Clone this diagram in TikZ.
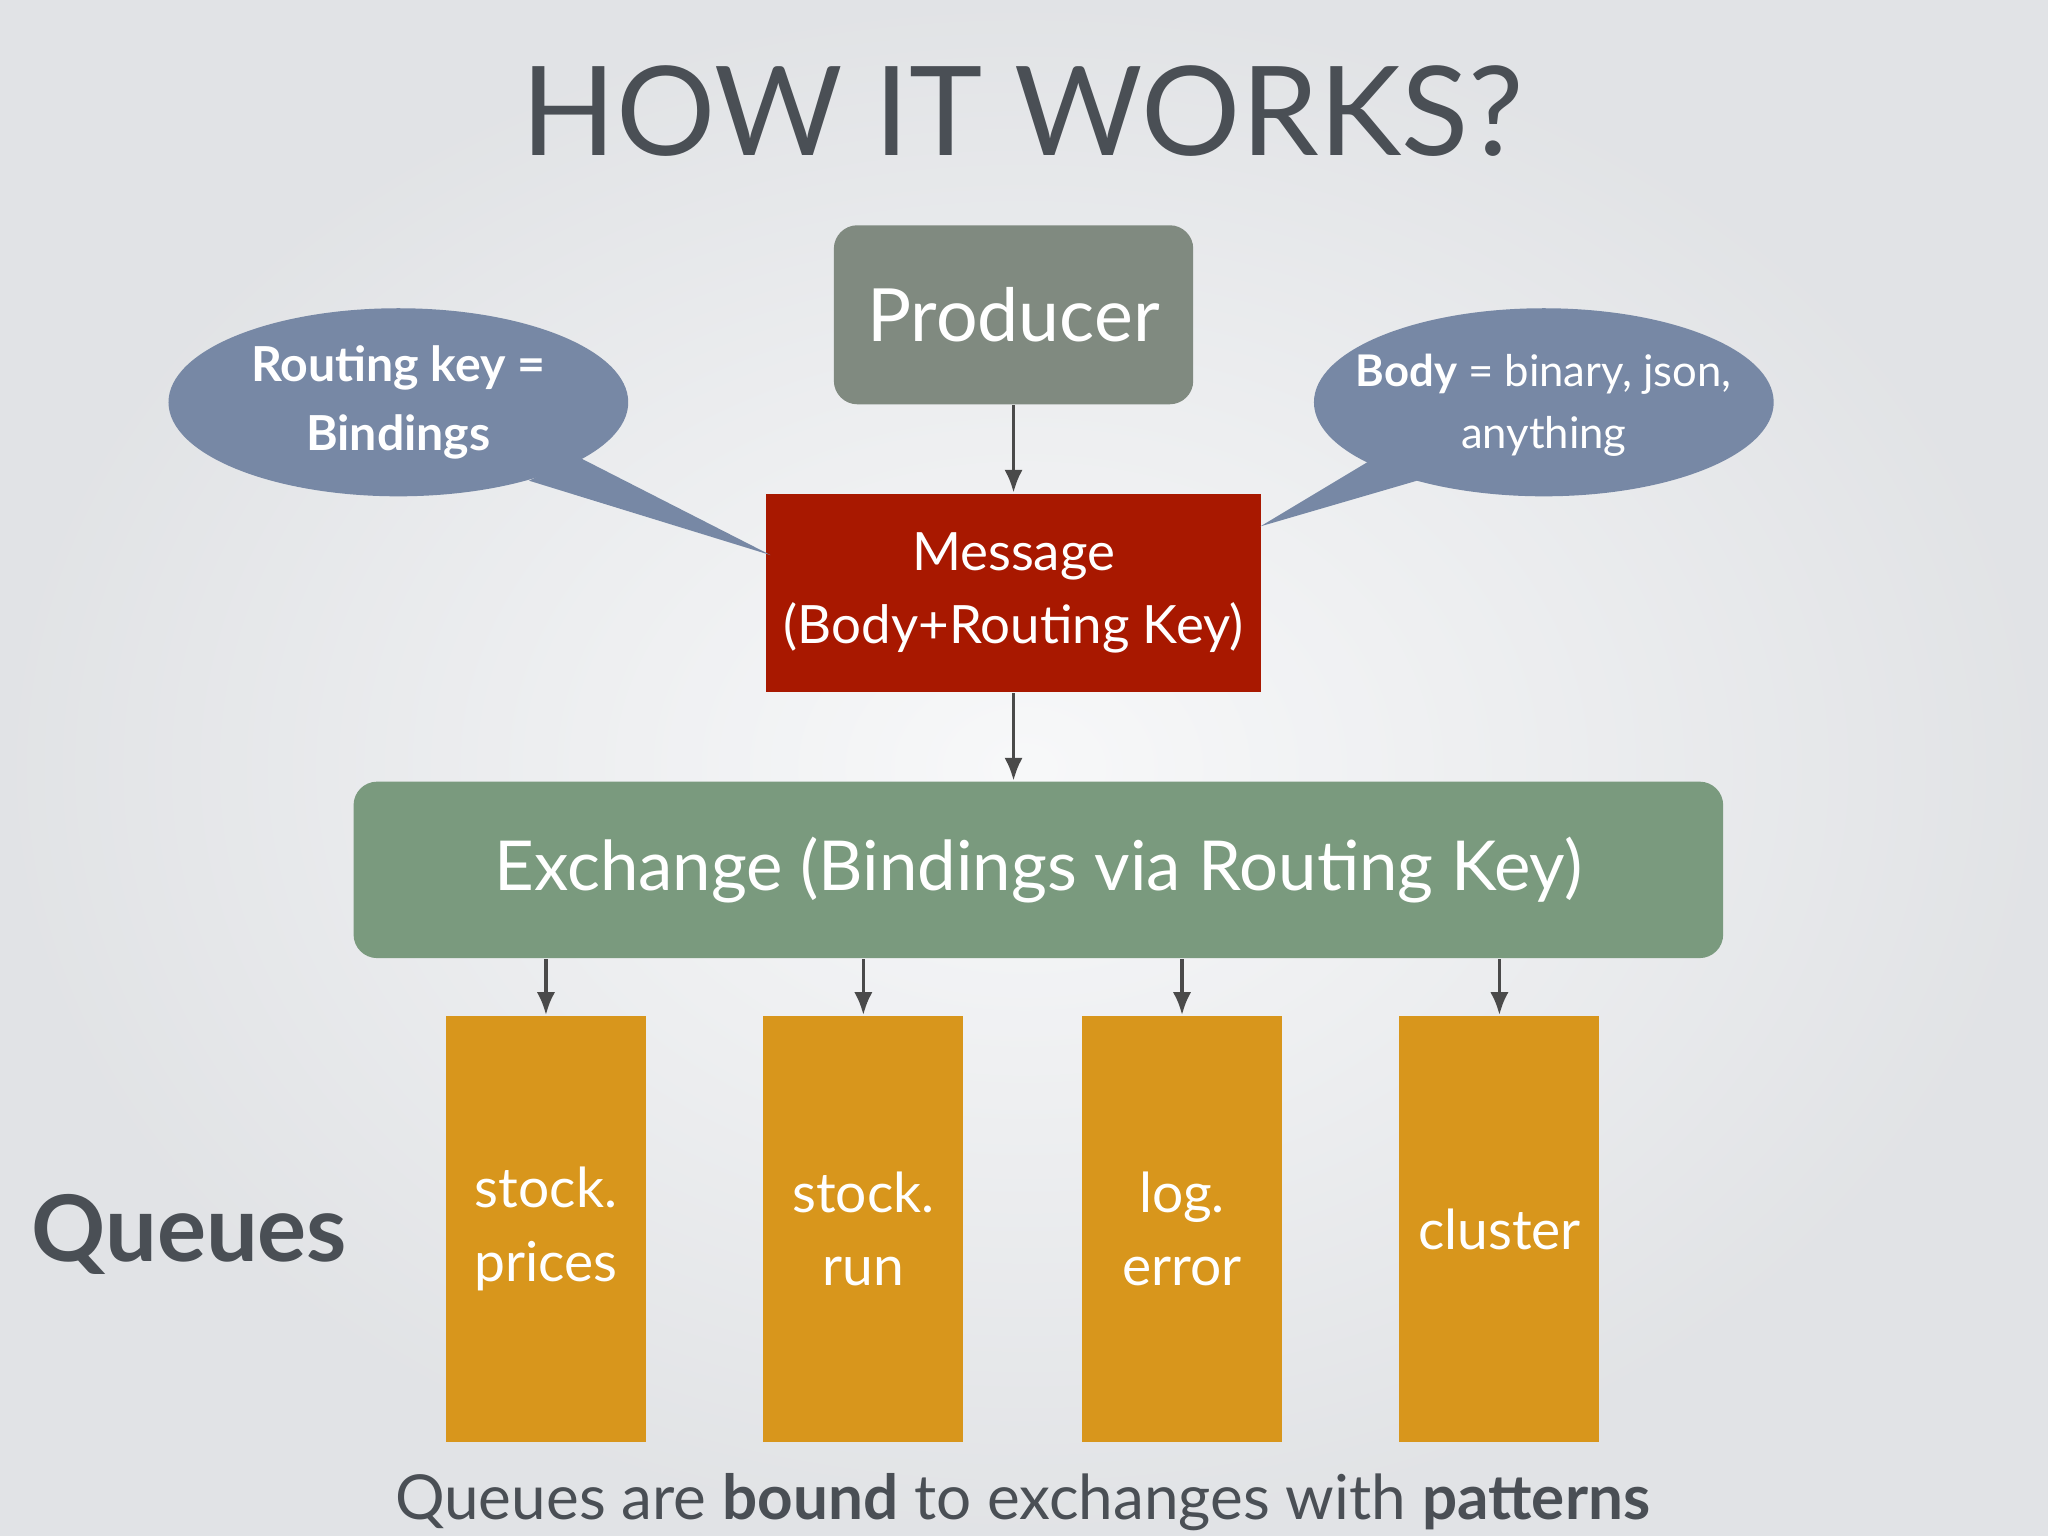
\documentclass[tikz,border=0pt]{standalone}
\usepackage{fontspec}
\setmainfont{Lato}
\usetikzlibrary{shapes.geometric,arrows.meta}
\definecolor{bg}{HTML}{ECEEF1}
\definecolor{ttl}{HTML}{4A4F55}
\definecolor{prod}{HTML}{808A80}
\definecolor{msg}{HTML}{A81800}
\definecolor{exch}{HTML}{7A9A7E}
\definecolor{que}{HTML}{D8961C}
\definecolor{bub}{HTML}{7788A5}
\definecolor{arr}{HTML}{4A4A4A}
\begin{document}
\begin{tikzpicture}[x=0.01cm,y=-0.01cm,
  box/.style={draw=none,inner sep=0,text=white,align=center},
  q/.style={box,fill=que,minimum width=1.53cm,minimum height=3.26cm,font=\fontsize{12}{16}\selectfont},
  ar/.style={draw=arr,line width=0.8pt,-{Latex[length=5pt,width=4pt]}},
  bub/.style={fill=bub,draw=none},
  btext/.style={text=white,align=center,inner sep=0}]
\useasboundingbox (0,0) rectangle (1568,1176);
\shade[inner color=white!60!bg,outer color=bg!90!gray] (0,0) rectangle (1568,1176);
\node[text=ttl,font=\fontsize{27}{32}\selectfont] (title) at (783,85) {HOW IT WORKS?};
\node[box,fill=prod,rounded corners=0.18cm,minimum width=2.75cm,minimum height=1.37cm,font=\fontsize{16}{20}\selectfont] (prod) at (776,241) {Producer};
\node[box,fill=msg,minimum width=3.79cm,minimum height=1.52cm,font=\fontsize{11.5}{16}\selectfont] (msg) at (776,454) {Message\\(Body+Routing Key)};
\node[box,fill=exch,rounded corners=0.18cm,minimum width=10.48cm,minimum height=1.35cm,font=\fontsize{15}{20}\selectfont] (ex) at (795,666) {Exchange (Bindings via Routing Key)};
\node[q] (q1) at (418,941) {stock.\\prices};
\node[q] (q2) at (661,941) {stock.\\run};
\node[q] (q3) at (905,941) {log.\\error};
\node[q] (q4) at (1148,941) {cluster};
\draw[ar] (prod) -- (msg);
\draw[ar] (msg) -- (msg|-ex.north);
\foreach \i in {1,...,4} \draw[ar] (q\i|-ex.south) -- (q\i.north);
% bubbles
\coordinate (lt) at (590,425);
\coordinate (rt) at (965,403);
\fill[bub] (443,350) -- (lt) -- (405,368) -- cycle;
\fill[bub] (1050,352) -- (rt) -- (1085,368) -- cycle;
\fill[bub] (305,308) ellipse [x radius=176, y radius=72];
\fill[bub] (1182,308) ellipse [x radius=176, y radius=72];
\node[btext,font=\bfseries\fontsize{10.5}{15}\selectfont] (lb) at (305,308) {Routing key =\\Bindings};
\node[btext,font=\fontsize{9.5}{13.5}\selectfont] (rb) at (1182,310) {\textbf{Body} = binary, json,\\anything};
\node[text=ttl,font=\bfseries\fontsize{20}{24}\selectfont] (ql) at (145,945) {Queues};
\node[text=ttl,font=\fontsize{13.5}{18}\selectfont] (cap) at (783,1150) {Queues are \textbf{bound} to exchanges with \textbf{patterns}};
\end{tikzpicture}
\end{document}
